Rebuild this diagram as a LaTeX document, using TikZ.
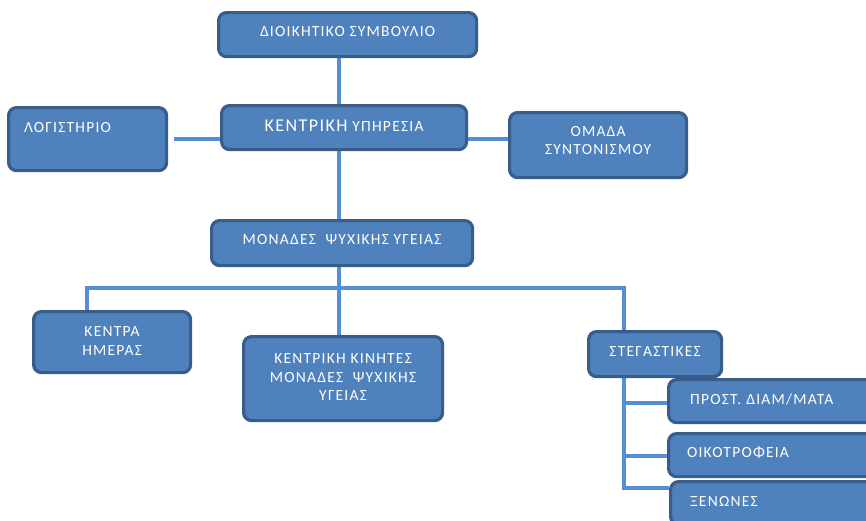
\documentclass[tikz,border=0pt]{standalone}
\usepackage{fontspec}
\setmainfont{Carlito}[LetterSpace=8]
\usetikzlibrary{backgrounds}
\definecolor{boxfill}{HTML}{4F81BD}
\definecolor{boxline}{HTML}{385D8A}
\definecolor{linkblue}{HTML}{558ED5}
\begin{document}
\begin{tikzpicture}[x=1pt,y=-1pt,
  unit/.style={draw=boxline,line width=3.2pt,fill=boxfill,rounded corners=8pt,
    text=white,font=\fontsize{15.5}{18.5}\selectfont,anchor=north west,inner sep=2pt,align=center},
  leftunit/.style={unit,text width=#1,align=left},
  link/.style={draw=linkblue,line width=3.4pt}]
\useasboundingbox (0,0) rectangle (866,520);
\coordinate (spine) at (339,0);
\coordinate (bar) at (0,288);
\coordinate (stegline) at (624,0);
% boxes
\node[unit,minimum width=258pt,minimum height=44pt] (dioik) at (217,11)
  {ΔΙΟΙΚΗΤΙΚΟ ΣΥΜΒΟΥΛΙΟ\\[-11.5pt]\mbox{}};
\node[unit,minimum width=245pt,minimum height=44pt] (kentr) at (220,104)
  {{\fontsize{18}{19}\selectfont ΚΕΝΤΡΙΚΗ} ΥΠΗΡΕΣΙΑ\\[-14.5pt]\mbox{}};
\node[leftunit=145pt,minimum width=158pt,minimum height=63pt] (logist) at (7,106)
  {\hspace*{9pt}ΛΟΓΙΣΤΗΡΙΟ\\[5.5pt]\mbox{}};
\node[unit,minimum width=177pt,minimum height=65pt] (omada) at (508,111)
  {ΟΜΑΔΑ\\ΣΥΝΤΟΝΙΣΜΟΥ\\[-9.5pt]\mbox{}};
\node[unit,minimum width=261pt,minimum height=45pt] (monades) at (210,219)
  {ΜΟΝΑΔΕΣ \ ΨΥΧΙΚΗΣ ΥΓΕΙΑΣ\\[-11.5pt]\mbox{}};
\node[unit,minimum width=157pt,minimum height=61pt] (kentra) at (32,310)
  {ΚΕΝΤΡΑ\\ΗΜΕΡΑΣ\\[-16.5pt]\mbox{}};
\node[unit,minimum width=199pt,minimum height=84pt] (kinhtes) at (242,335)
  {ΚΕΝΤΡΙΚΗ ΚΙΝΗΤΕΣ\\ΜΟΝΑΔΕΣ \ ΨΥΧΙΚΗΣ\\ΥΓΕΙΑΣ\\[-15.5pt]\mbox{}};
\node[unit,minimum width=133pt,minimum height=45pt] (stegast) at (587,330)
  {ΣΤΕΓΑΣΤΙΚΕΣ\\[-12.5pt]\mbox{}};
\node[leftunit=190pt,minimum width=215pt,minimum height=43pt] (prost) at (667,378)
  {\hspace*{9pt}ΠΡΟΣΤ. ΔΙΑΜ/ΜΑΤΑ\\[-14.5pt]\mbox{}};
\node[leftunit=190pt,minimum width=215pt,minimum height=43pt] (oikotr) at (667,432)
  {\hspace*{6pt}ΟΙΚΟΤΡΟΦΕΙΑ\\[-12.5pt]\mbox{}};
\node[leftunit=190pt,minimum width=215pt,minimum height=43pt] (xenones) at (669,480)
  {\hspace*{7pt}ΞΕΝΩΝΕΣ\\[-14.5pt]\mbox{}};
% connectors behind the boxes
\begin{scope}[on background layer]
\draw[link] (dioik.south -| spine) -- (monades.north -| spine);
\draw[link] ([xshift=6pt]logist.east) -- (logist.east -| kentr.west);
\draw[link] (kentr.east |- logist.east) -- (omada.west |- logist.east);
\draw[link] (monades.south -| spine) -- (kinhtes.north -| spine);
\draw[link] (kentra.north -| 87,0) |- (bar -| stegline) -- (stegast.north -| stegline);
\draw[link] ([yshift=4pt]stegast.south -| stegline) |- ([yshift=15pt]xenones.west);
\draw[link] (prost.west |- 0,403) -- (stegline |- 0,403);
\draw[link] (oikotr.west |- 0,456) -- (stegline |- 0,456);
\end{scope}
\end{tikzpicture}
\end{document}
